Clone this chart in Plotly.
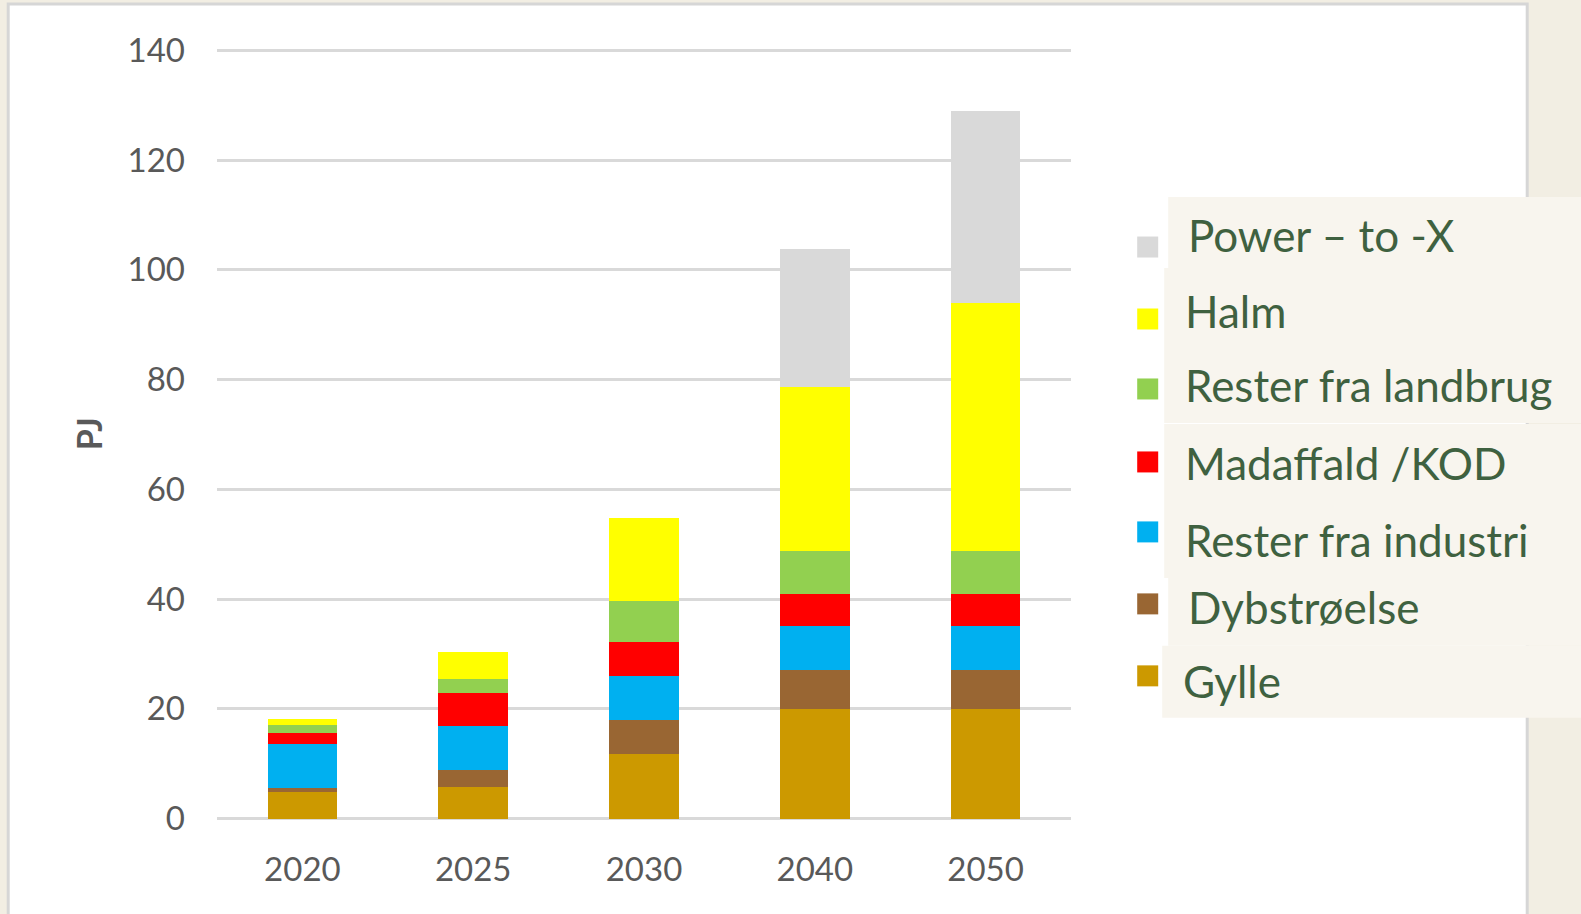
import plotly.graph_objects as go

# Categories (years) and stacked series, bottom to top
years = ["2020", "2025", "2030", "2040", "2050"]

gylle = [4.8, 5.8, 11.7, 20.0, 20.0]
dybstroelse = [0.7, 3.0, 6.3, 7.0, 7.0]
rester_industri = [8.1, 8.1, 7.9, 8.1, 8.1]
madaffald = [1.9, 6.0, 6.2, 5.9, 5.9]
rester_landbrug = [1.5, 2.5, 7.5, 7.8, 7.8]
halm = [1.2, 4.9, 15.1, 29.9, 45.1]
power_to_x = [0.0, 0.0, 0.0, 25.2, 35.0]

series_names = ["Gylle", "Dybstrøelse", "Rester fra industri", "Madaffald /KOD",
                "Rester fra landbrug", "Halm", "Power \u2013 to -X"]
series_values = [gylle, dybstroelse, rester_industri, madaffald,
                 rester_landbrug, halm, power_to_x]
series_colors = ["#CC9900", "#996633", "#00B0F0", "#FF0000",
                 "#92D050", "#FFFF00", "#D9D9D9"]

y_ticks = [0, 20, 40, 60, 80, 100, 120, 140]
y_title = "PJ"

# Page geometry (pixels)
W_PAGE, H_PAGE = 1581, 914
L, R_EDGE = 216.8, 1070.8
TOP, BOT = 44.9, 824.2
PW, PH = R_EDGE - L, BOT - TOP


def px(x):
    return (x - L) / PW


def py(y):
    return (BOT - y) / PH


fig = go.Figure()
for name, vals, col in zip(series_names, series_values, series_colors):
    fig.add_trace(go.Bar(x=years, y=vals, name=name,
                         marker=dict(color=col, line=dict(width=0)),
                         showlegend=False))

shapes = []
# white panel with grey frame
shapes.append(dict(type="rect", xref="paper", yref="paper", layer="below",
                   x0=px(8), x1=px(1527), y0=py(930), y1=py(4),
                   fillcolor="#FFFFFF", line=dict(color="#D6D6D6", width=3)))
# legend text boxes
boxes = [(197, 268, 1168), (268, 423, 1164), (424, 578, 1164),
         (578, 646, 1168), (646, 718, 1162)]
for y0, y1, x0 in boxes:
    shapes.append(dict(type="rect", xref="paper", yref="paper", layer="below",
                       x0=px(x0), x1=px(1600), y0=py(y1), y1=py(y0),
                       fillcolor="#F8F5EE", line=dict(width=0)))

annotations = []
# legend entries, top to bottom
sq_y = [247, 319, 389, 462, 532, 604, 676]
txt_y = [235, 311, 385, 463, 540, 607, 681]
txt_x = [1186, 1183, 1183, 1183, 1183, 1186, 1181]
for i, k in enumerate(range(len(series_names) - 1, -1, -1)):
    shapes.append(dict(type="rect", xref="paper", yref="paper", layer="above",
                       x0=px(1137), x1=px(1158),
                       y0=py(sq_y[i] + 10.5), y1=py(sq_y[i] - 10.5),
                       fillcolor=series_colors[k], line=dict(width=0)))
    annotations.append(dict(xref="paper", yref="paper", x=px(txt_x[i]), y=py(txt_y[i]),
                            xanchor="left", yanchor="middle", showarrow=False,
                            text=series_names[k],
                            font=dict(family="Lato", size=44, color="#3F6140")))

annotations.append(dict(xref="paper", yref="paper", x=px(89), y=py(434),
                        xanchor="center", yanchor="middle", showarrow=False,
                        text=y_title, textangle=-90,
                        font=dict(family="Lato", size=34, color="#595959",
                                  weight="bold")))

fig.update_layout(
    width=W_PAGE, height=H_PAGE,
    margin=dict(l=L, r=W_PAGE - R_EDGE, t=TOP, b=H_PAGE - BOT, pad=0),
    paper_bgcolor="#F2EEE3",
    plot_bgcolor="rgba(0,0,0,0)",
    barmode="stack",
    bargap=0.593,
    shapes=shapes,
    annotations=annotations,
    font=dict(family="Lato", color="#595959"),
)
fig.update_xaxes(type="category", showgrid=False, zeroline=False, showline=False,
                 ticks="", tickfont=dict(family="Lato", size=33, color="#595959"),
                 ticklabelstandoff=23)
fig.update_yaxes(range=[-1, 141], tickvals=y_ticks, showgrid=True,
                 gridcolor="#D9D9D9", gridwidth=3, zeroline=False, showline=False,
                 ticks="", tickfont=dict(family="Lato", size=33, color="#595959"),
                 ticklabelstandoff=31)

fig.write_html("out.html")
